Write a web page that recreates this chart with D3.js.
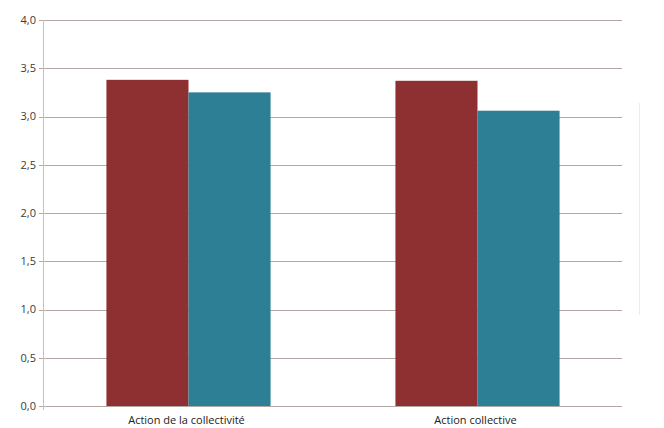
<!DOCTYPE html>
<html><head><meta charset="utf-8">
<script src="https://cdn.jsdelivr.net/npm/d3@7"></script>
<style>body{margin:0;background:#fff}svg{display:block}</style>
</head><body>
<script>
const categories = ["Action de la collectivité", "Action collective"];
const seriesNames = ["Série 1", "Série 2"];
const series1 = [3.38, 3.37];
const series2 = [3.25, 3.06];
const yTicks = [0, 0.5, 1, 1.5, 2, 2.5, 3, 3.5, 4];
const colors = ["#8e2f32", "#2d7f96"];

const W = 664, H = 428;
const m = {left: 44, right: 42, top: 20, bottom: 22};
const svg = d3.select("body").append("svg").attr("width", W).attr("height", H);

const y = d3.scaleLinear().domain([0, 4]).range([H - m.bottom, m.top]);
const x = d3.scaleBand().domain(categories).range([m.left, W - m.right]).padding(0);
const xs = d3.scaleBand().domain(seriesNames).range([x.bandwidth() * 0.216, x.bandwidth() * 0.784]).padding(0);

// gridlines
svg.append("g").selectAll("line").data(yTicks).join("line")
  .attr("x1", m.left - 5).attr("x2", W - m.right)
  .attr("y1", d => Math.round(y(d)) + 0.5).attr("y2", d => Math.round(y(d)) + 0.5)
  .attr("stroke", "#b3a8a6").attr("stroke-width", 1);

// y axis line
svg.append("line").attr("x1", m.left - 0.5).attr("x2", m.left - 0.5)
  .attr("y1", y(4)).attr("y2", y(0) + 4).attr("stroke", "#c9c0bf");

// y labels
svg.append("g").selectAll("text").data(yTicks).join("text")
  .attr("x", m.left - 8).attr("y", d => y(d)).attr("dy", "0.35em")
  .attr("text-anchor", "end").attr("font-family", "Open Sans, sans-serif")
  .attr("font-size", 11).attr("fill", "#3a3a3a")
  .text(d => d3.format(".1f")(d).replace(".", ","));

// bars
const data = categories.map((c, i) => [series1[i], series2[i]]);
const g = svg.append("g").selectAll("g").data(categories).join("g")
  .attr("transform", c => `translate(${x(c)},0)`);
g.selectAll("rect").data((c, i) => data[i].map((v, j) => ({name: seriesNames[j], v, j})))
  .join("rect")
  .attr("x", d => xs(d.name)).attr("width", xs.bandwidth())
  .attr("y", d => y(d.v)).attr("height", d => y(0) - y(d.v))
  .attr("fill", d => colors[d.j]);

// x labels
svg.append("g").selectAll("text").data(categories).join("text")
  .attr("x", c => x(c) + x.bandwidth() / 2 - 2).attr("y", H - 4)
  .attr("text-anchor", "middle").attr("font-family", "Open Sans, sans-serif")
  .attr("font-size", 11).attr("fill", "#222")
  .text(c => c);

// faint frame line at right
svg.append("line").attr("x1", 639.5).attr("x2", 639.5).attr("y1", 103).attr("y2", 315)
  .attr("stroke", "#ececec");
</script>
</body></html>
